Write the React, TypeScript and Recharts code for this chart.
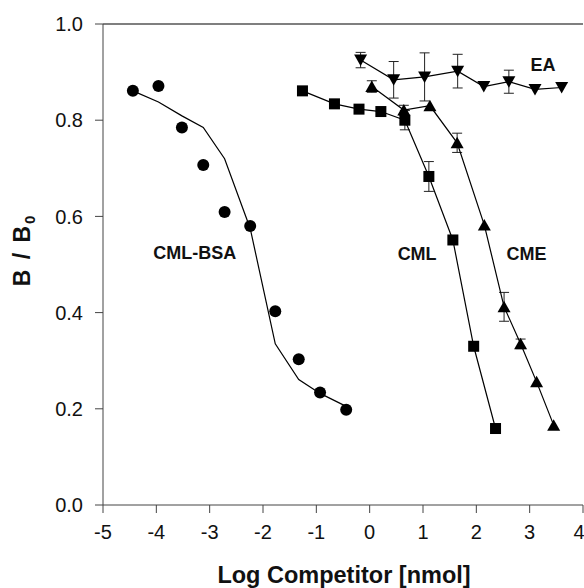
import React from "react";
import {
  ComposedChart,
  Line,
  XAxis,
  YAxis,
  ErrorBar,
  ReferenceLine,
  ReferenceDot,
} from "recharts";

// CML-BSA: points + fitted curve
const cmlBsaX = [-4.44, -3.96, -3.52, -3.12, -2.72, -2.24, -1.77, -1.33, -0.93, -0.44];
const cmlBsaY = [0.861, 0.871, 0.785, 0.707, 0.609, 0.58, 0.403, 0.303, 0.234, 0.198];
const cmlBsaFit = [0.861, 0.838, 0.809, 0.785, 0.72, 0.575, 0.335, 0.261, 0.232, 0.205];

// CML (squares)
const cmlX = [-1.26, -0.66, -0.2, 0.21, 0.66, 1.11, 1.56, 1.95, 2.36];
const cmlY = [0.861, 0.834, 0.823, 0.818, 0.8, 0.683, 0.551, 0.33, 0.159];
const cmlErr = [0, 0, 0, 0, 0.02, 0.031, 0, 0, 0.005];

// CME (up triangles)
const cmeX = [0.04, 0.64, 1.13, 1.64, 2.15, 2.52, 2.83, 3.13, 3.45];
const cmeY = [0.87, 0.821, 0.83, 0.753, 0.582, 0.412, 0.335, 0.256, 0.166];
const cmeErr = [0.012, 0.01, 0, 0.02, 0, 0.03, 0.01, 0, 0];

// EA (down triangles)
const eaX = [-0.17, 0.45, 1.03, 1.65, 2.14, 2.61, 3.1, 3.6];
const eaY = [0.925, 0.884, 0.89, 0.902, 0.87, 0.88, 0.864, 0.868];
const eaErr = [0.016, 0.038, 0.05, 0.035, 0, 0.024, 0, 0];

const xTicks = [-5, -4, -3, -2, -1, 0, 1, 2, 3, 4];
const yTicks = [0, 0.2, 0.4, 0.6, 0.8, 1.0];

const curveLabels = [
  { text: "CML-BSA", x: -3.28, y: 0.524 },
  { text: "CML", x: 0.89, y: 0.523 },
  { text: "CME", x: 2.94, y: 0.523 },
  { text: "EA", x: 3.25, y: 0.916 },
];

const zip = (xs: number[], ys: number[], extra?: number[], fit?: number[]) =>
  xs.map((x, i) => ({ x, y: ys[i], err: extra ? extra[i] : 0, fit: fit ? fit[i] : undefined }));

const cmlBsaData = zip(cmlBsaX, cmlBsaY, undefined, cmlBsaFit);
const cmlData = zip(cmlX, cmlY, cmlErr);
const cmeData = zip(cmeX, cmeY, cmeErr);
const eaData = zip(eaX, eaY, eaErr);

const ink = "#000";

function marker(kind: string) {
  return (p: any) => {
    const { cx, cy, index } = p;
    if (cx == null || cy == null) return <g key={index} />;
    if (kind === "circle") return <circle key={index} cx={cx} cy={cy} r={6} fill={ink} />;
    if (kind === "square")
      return <rect key={index} x={cx - 5.5} y={cy - 5.5} width={11} height={11} fill={ink} />;
    if (kind === "up")
      return (
        <polygon
          key={index}
          points={`${cx},${cy - 6} ${cx - 6.5},${cy + 5.5} ${cx + 6.5},${cy + 5.5}`}
          fill={ink}
        />
      );
    return (
      <polygon
        key={index}
        points={`${cx - 6.5},${cy - 5.5} ${cx + 6.5},${cy - 5.5} ${cx},${cy + 6}`}
        fill={ink}
      />
    );
  };
}

export default function App() {
  return (
    <div style={{ position: "absolute", left: 0, top: 0, fontFamily: "'Liberation Sans', Arial, sans-serif" }}>
      <ComposedChart width={584} height={588} margin={{ top: 24, right: 1, left: 0, bottom: 0 }}>
        <XAxis
          dataKey="x"
          type="number"
          domain={[-5, 4]}
          ticks={xTicks}
          allowDataOverflow
          height={83}
          tickSize={8}
          tickMargin={12}
          stroke="#444"
          tick={{ fontSize: 20, fill: "#111" }}
          label={{
            content: () => (
              <text x={344} y={583} textAnchor="middle" fontSize={23.5} fontWeight="bold" fill="#111">
                Log Competitor [nmol]
              </text>
            ),
          }}
        />
        <YAxis
          type="number"
          domain={[0, 1]}
          ticks={yTicks}
          width={103}
          tickSize={8}
          tickMargin={12}
          stroke="#444"
          tickFormatter={(v: number) => v.toFixed(1)}
          tick={{ fontSize: 20, fill: "#111" }}
          label={{
            content: () => (
              <text
                x={30}
                y={250}
                transform="rotate(-90, 30, 250)"
                textAnchor="middle"
                fontSize={23}
                fontWeight="bold"
                letterSpacing={2}
                fill="#111"
              >
                <tspan>B / B</tspan>
                <tspan fontSize={15} dy={5}>0</tspan>
              </text>
            ),
          }}
        />
        <ReferenceLine y={1} stroke={ink} strokeWidth={1.2} />

        <Line
          data={cmlBsaData}
          dataKey="fit"
          stroke={ink}
          strokeWidth={1.2}
          dot={false}
          isAnimationActive={false}
        />
        <Line
          data={cmlBsaData}
          dataKey="y"
          stroke="none"
          dot={marker("circle")}
          isAnimationActive={false}
        />
        <Line
          data={cmlData}
          dataKey="y"
          stroke={ink}
          strokeWidth={1.2}
          dot={marker("square")}
          isAnimationActive={false}
        >
          <ErrorBar dataKey="err" width={5} stroke="#222" strokeWidth={1} direction="y" />
        </Line>
        <Line
          data={cmeData}
          dataKey="y"
          stroke={ink}
          strokeWidth={1.2}
          dot={marker("up")}
          isAnimationActive={false}
        >
          <ErrorBar dataKey="err" width={5} stroke="#222" strokeWidth={1} direction="y" />
        </Line>
        <Line
          data={eaData}
          dataKey="y"
          stroke={ink}
          strokeWidth={1.2}
          dot={marker("down")}
          isAnimationActive={false}
        >
          <ErrorBar dataKey="err" width={5} stroke="#222" strokeWidth={1} direction="y" />
        </Line>

        {curveLabels.map((l) => (
          <ReferenceDot
            key={l.text}
            x={l.x}
            y={l.y}
            r={0}
            fill="none"
            stroke="none"
            label={{ value: l.text, position: "center", fontSize: 18, fontWeight: "bold", fill: "#111" }}
          />
        ))}
      </ComposedChart>
    </div>
  );
}
